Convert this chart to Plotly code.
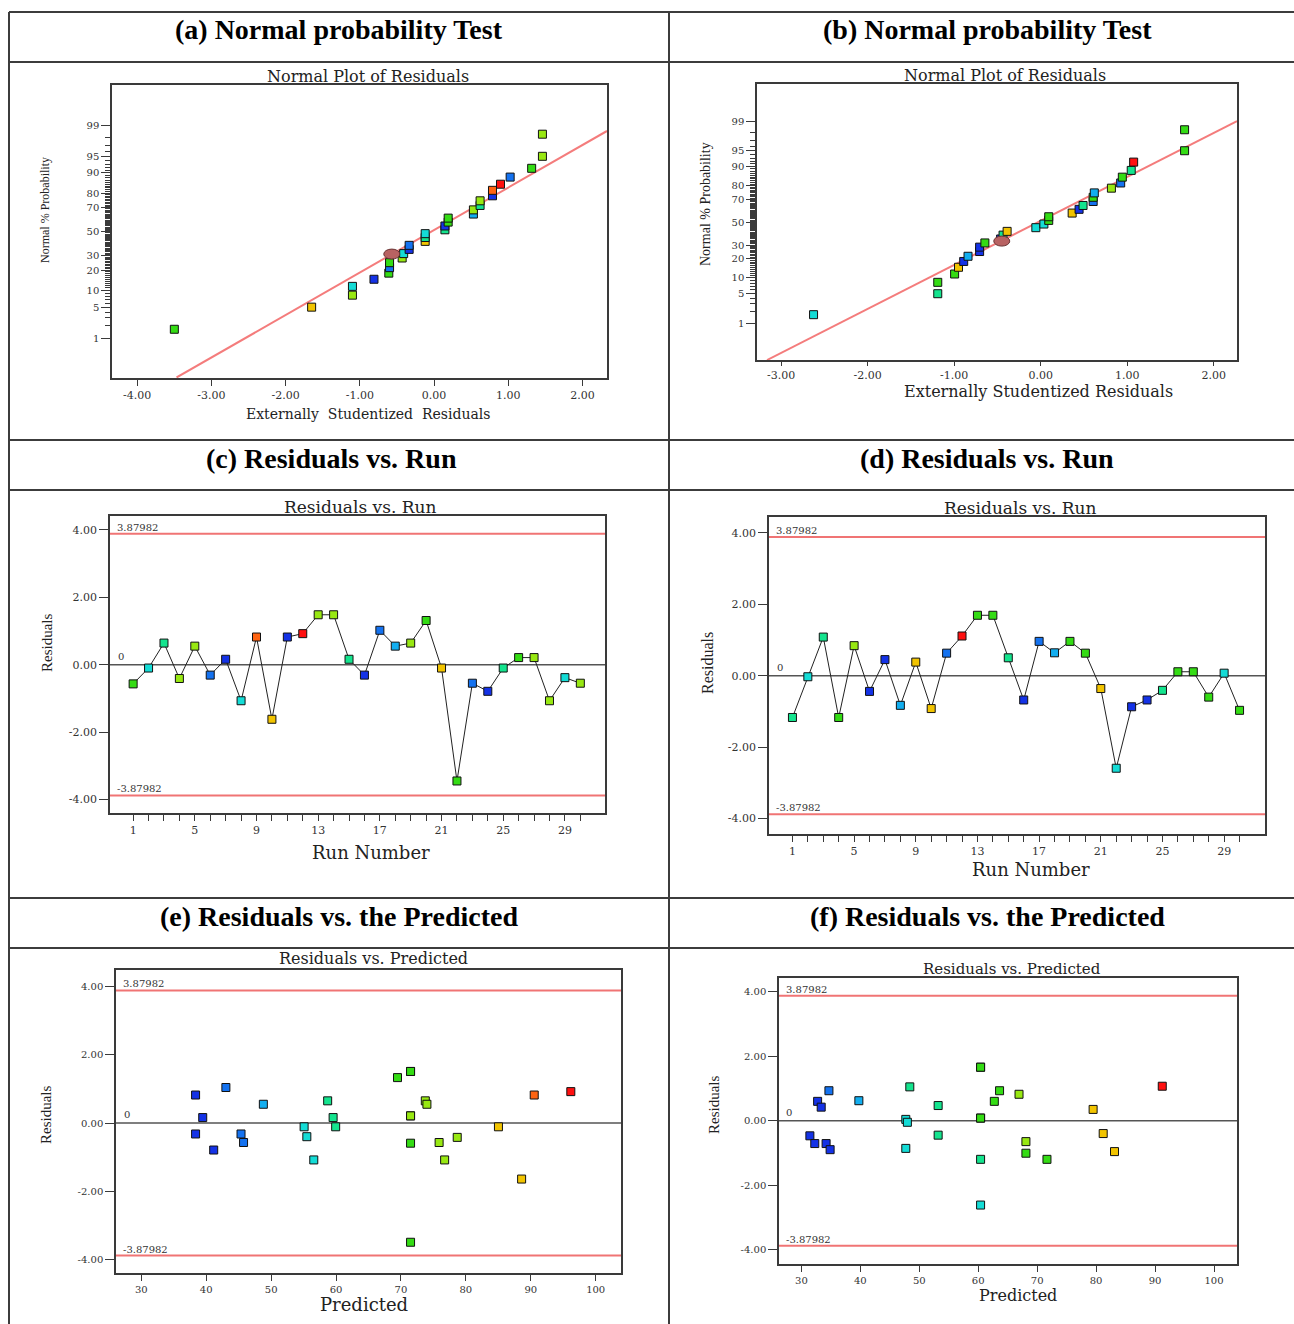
import plotly.graph_objects as go
from statistics import NormalDist

W, H = 1294, 1324
_nd = NormalDist()


def zq(p):
    return _nd.inv_cdf(p / 100.0)


# ---------------- DATA ----------------
palette = {
    "B": "#1432e6", "A": "#1472f0", "S": "#12aef0", "C": "#14dcd6",
    "T": "#14e48e", "G": "#34dc14", "L": "#98e812", "Y": "#f2c400",
    "O": "#ff6412", "R": "#ff1010",
}

prob_pct = [1.67, 5, 8.33, 11.67, 15, 18.33, 21.67, 25, 28.33, 31.67, 35, 38.33,
            41.67, 45, 48.33, 51.67, 55, 58.33, 61.67, 65, 68.33, 71.67, 75, 78.33,
            81.67, 85, 88.33, 91.67, 95, 98.33]

# (a) normal plot
esr_a = [-3.50, -1.65, -1.10, -1.10, -0.81, -0.61, -0.60, -0.60, -0.43, -0.41, -0.336, -0.336,
         -0.12, -0.12, -0.12, 0.146, 0.146, 0.19, 0.19, 0.53, 0.53, 0.62, 0.62, 0.787,
         0.787, 0.895, 1.025, 1.315, 1.46, 1.46]
col_a = ["G", "Y", "L", "C", "B", "G", "A", "G", "L", "C", "B", "A", "Y", "T", "C", "T", "B",
         "G", "G", "S", "L", "T", "L", "B", "O", "R", "A", "G", "L", "L"]
line_a_esr = [-3.47, 2.33]
line_a_pct = [0.074, 98.6]
hl_a = (-0.57, 31.3)

# (b) normal plot
esr_b = [-2.626, -1.19, -1.19, -0.995, -0.95, -0.89, -0.84, -0.706, -0.706, -0.645, -0.463,
         -0.435, -0.388, -0.056, 0.037, 0.093, 0.093, 0.364, 0.444, 0.49, 0.607, 0.607, 0.62,
         0.818, 0.925, 0.944, 1.047, 1.075, 1.664, 1.664]
col_b = ["C", "T", "G", "G", "Y", "B", "S", "B", "B", "G", "B", "T", "Y", "C", "C", "G", "G",
         "Y", "B", "T", "A", "G", "S", "L", "A", "G", "T", "R", "G", "G"]
line_b_esr = [-3.164, 2.27]
line_b_pct = [0.076, 99.0]
hl_b = (-0.45, 33.2)

# (c) residuals vs run
runs = list(range(1, 31))
res_c = [-0.57, -0.10, 0.64, -0.41, 0.55, -0.31, 0.16, -1.07, 0.82, -1.62, 0.82, 0.92, 1.48,
         1.48, 0.16, -0.31, 1.02, 0.55, 0.64, 1.31, -0.10, -3.45, -0.55, -0.79, -0.10, 0.21,
         0.21, -1.07, -0.385, -0.55]
col_c = ["G", "C", "T", "L", "L", "A", "B", "C", "O", "Y", "B", "R", "L", "L", "T", "B", "A",
         "S", "L", "G", "Y", "G", "A", "B", "T", "G", "L", "L", "C", "L"]

# (d) residuals vs run
res_d = [-1.17, -0.03, 1.08, -1.17, 0.84, -0.44, 0.45, -0.83, 0.38, -0.92, 0.63, 1.11, 1.69,
         1.69, 0.50, -0.68, 0.96, 0.64, 0.96, 0.63, -0.36, -2.59, -0.87, -0.68, -0.41, 0.11,
         0.11, -0.60, 0.07, -0.97]
col_d = ["T", "C", "T", "G", "L", "B", "B", "S", "Y", "Y", "A", "R", "G", "G", "T", "B", "A",
         "S", "G", "G", "Y", "C", "B", "B", "T", "G", "G", "G", "C", "G"]

# (e) residuals vs predicted
pred_e = [38.36, 39.46, 38.36, 41.15, 43.03, 45.36, 45.75, 48.8, 55.08, 55.5, 56.57, 58.71,
          59.55, 59.94, 69.47, 71.48, 71.48, 71.48, 71.48, 71.48, 71.48, 73.75, 74.0, 75.88,
          76.73, 78.67, 85.02, 88.59, 90.53, 96.17]
res_e = [0.82, 0.16, -0.32, -0.79, 1.04, -0.32, -0.57, 0.55, -0.11, -0.40, -1.08, 0.65, 0.16,
         -0.11, 1.33, 1.51, 1.51, 0.21, 0.21, -0.59, -3.49, 0.65, 0.55, -0.57, -1.08, -0.42,
         -0.11, -1.64, 0.82, 0.92]
col_e = ["B", "B", "B", "B", "A", "A", "A", "S", "C", "C", "C", "T", "T", "T", "G", "G", "G",
         "G", "L", "G", "G", "L", "L", "L", "L", "L", "Y", "Y", "O", "R"]

# (f) residuals vs predicted
pred_f = [31.44, 32.27, 32.75, 33.36, 34.19, 34.87, 34.67, 39.75, 47.71, 47.71, 47.98, 48.39,
          53.2, 53.2, 60.4, 60.4, 60.4, 60.4, 60.4, 60.4, 62.73, 63.62, 66.92, 68.09, 68.09,
          71.66, 79.49, 81.2, 83.12, 91.22]
res_f = [-0.47, -0.71, 0.60, 0.42, -0.71, -0.90, 0.93, 0.62, -0.86, 0.04, -0.05, 1.05, 0.47,
         -0.45, 1.66, 1.66, 0.08, 0.08, -1.20, -2.62, 0.60, 0.93, 0.82, -0.65, -1.01, -1.20,
         0.35, -0.40, -0.96, 1.07]
col_f = ["B", "B", "B", "B", "B", "B", "A", "S", "C", "C", "C", "T", "T", "T", "G", "G", "G",
         "G", "T", "C", "G", "G", "L", "L", "G", "G", "Y", "Y", "Y", "R"]

control_limit = 3.87982
prob_major = [1, 5, 10, 20, 30, 50, 70, 80, 90, 95, 99]
esr_ticks_a = [-4, -3, -2, -1, 0, 1, 2]
esr_ticks_b = [-3, -2, -1, 0, 1, 2]
res_ticks = [-4, -2, 0, 2, 4]
run_labels = [1, 5, 9, 13, 17, 21, 25, 29]
pred_ticks = [30, 40, 50, 60, 70, 80, 90, 100]

header_texts = ["(a) Normal probability Test", "(b) Normal probability Test",
                "(c) Residuals vs. Run", "(d) Residuals vs. Run",
                "(e) Residuals vs. the Predicted", "(f) Residuals vs. the Predicted"]
plot_titles = ["Normal Plot of Residuals", "Normal Plot of Residuals",
               "Residuals vs. Run", "Residuals vs. Run",
               "Residuals vs. Predicted", "Residuals vs. Predicted"]
x_titles = ["Externally  Studentized  Residuals", "Externally Studentized Residuals",
            "Run Number", "Run Number", "Predicted", "Predicted"]
y_titles = ["Normal % Probability", "Normal % Probability",
            "Residuals", "Residuals", "Residuals", "Residuals"]

# ---------------- LAYOUT GEOMETRY (pixels) ----------------
boxes = [(112, 85, 607, 378), (757, 84, 1237, 360),
         (110, 516, 605, 813), (769, 517, 1265, 834),
         (116, 970, 621, 1273), (779, 978, 1237, 1264)]
title_pos = [(368, 77, 16), (1005, 75, 16), (360, 507, 17), (1020, 508, 17),
             (373, 958, 16), (1012, 969, 15)]
xlab_pos = [(368, 414, 14), (1038, 392, 16), (371, 852, 18), (1031, 869, 18),
            (364, 1304, 18), (1018, 1295, 16)]
ylab_pos = [(45, 210, 12), (706, 204, 14), (47, 643, 15), (707, 663, 16),
            (46, 1115, 15), (714, 1105, 15)]
header_pos = [(339, 30), (987, 30), (331, 458), (987, 458), (339, 916), (987, 916)]
xranges = [(-4.34, 2.33), (-3.28, 2.27), (-0.5, 31.6), (-0.52, 31.65), (26.1, 103.9), (26.2, 103.9)]
yranges = [(-3.19, 3.2), (-3.17, 3.18), (-4.40, 4.41), (-4.43, 4.44), (-4.39, 4.48), (-4.45, 4.43)]


def px(x):
    return x / W


def py(y):
    return 1 - y / H


SERIF = "DejaVu Serif"
TNR = "Liberation Serif"
AXC = "#3a3a3a"

fig = go.Figure()
layout = dict(width=W, height=H, autosize=False, margin=dict(l=0, r=0, t=0, b=0),
              paper_bgcolor="white", plot_bgcolor="white", showlegend=False)
shapes = []
annotations = []

for i in range(6):
    n = i + 1
    xa = "xaxis" if n == 1 else f"xaxis{n}"
    ya = "yaxis" if n == 1 else f"yaxis{n}"
    xr = "x" if n == 1 else f"x{n}"
    yr = "y" if n == 1 else f"y{n}"
    x0, y0, x1, y1 = boxes[i]
    base = dict(showline=True, mirror=True, linecolor=AXC, linewidth=1.5, ticks="outside",
                tickcolor=AXC, tickwidth=1, showgrid=False, zeroline=False, fixedrange=True,
                tickfont=dict(family=SERIF, size=11 if i < 4 else 10, color="#333"))
    xd = dict(base, domain=[px(x0), px(x1)], range=list(xranges[i]), anchor=yr,
              ticklen=4 if i == 1 else 6)
    yd = dict(base, domain=[py(y1), py(y0)], range=list(yranges[i]), anchor=xr, ticklen=9)

    if i < 2:
        et = esr_ticks_a if i == 0 else esr_ticks_b
        xd.update(tickmode="array", tickvals=et, ticktext=[f"{v:.2f}" for v in et])
        yd.update(tickmode="array", tickvals=[zq(p) for p in prob_major],
                  ticktext=[str(p) for p in prob_major], tickfont=dict(family=SERIF, size=10, color="#333"),
                  minor=dict(tickmode="array",
                             tickvals=[zq(p) for p in range(1, 100) if p not in prob_major],
                             ticks="outside", ticklen=5, tickcolor=AXC, tickwidth=1))
    else:
        yd.update(tickmode="array", tickvals=res_ticks, ticktext=[f"{v:.2f}" for v in res_ticks])
        if i < 4:
            xd.update(tickmode="array", tickvals=run_labels, ticktext=[str(v) for v in run_labels],
                      minor=dict(tickmode="array", tickvals=[r for r in runs if r not in run_labels],
                                 ticks="outside", ticklen=6, tickcolor=AXC, tickwidth=1))
        else:
            xd.update(tickmode="array", tickvals=pred_ticks, ticktext=[str(v) for v in pred_ticks])
    layout[xa] = xd
    layout[ya] = yd

    # titles
    tx, ty, ts = title_pos[i]
    annotations.append(dict(text=plot_titles[i], x=px(tx), y=py(ty), xref="paper", yref="paper",
                            showarrow=False, font=dict(family=SERIF, size=ts, color="#222"),
                            xanchor="center", yanchor="middle"))
    lx, ly, ls = xlab_pos[i]
    annotations.append(dict(text=x_titles[i], x=px(lx), y=py(ly), xref="paper", yref="paper",
                            showarrow=False, font=dict(family=SERIF, size=ls, color="#222"),
                            xanchor="center", yanchor="middle"))
    vx, vy, vs = ylab_pos[i]
    annotations.append(dict(text=y_titles[i], x=px(vx), y=py(vy), xref="paper", yref="paper",
                            showarrow=False, textangle=-90,
                            font=dict(family=TNR, size=vs, color="#222"),
                            xanchor="center", yanchor="middle"))
    hx, hy = header_pos[i]
    annotations.append(dict(text=f"<b>{header_texts[i]}</b>", x=px(hx), y=py(hy), xref="paper",
                            yref="paper", showarrow=False,
                            font=dict(family=TNR, size=28, color="#000"),
                            xanchor="center", yanchor="middle"))

    if i >= 2:
        dom = f"{xr} domain"
        for lim in (control_limit, -control_limit):
            shapes.append(dict(type="line", xref=dom, yref=yr, x0=0, x1=1, y0=lim, y1=lim,
                               line=dict(color="#f07474", width=2), layer="below"))
            annotations.append(dict(text=f"{lim:.5f}", xref=dom, yref=yr, x=0.01, y=lim,
                                    xanchor="left", yanchor="bottom", showarrow=False,
                                    font=dict(family=SERIF, size=10, color="#333"), yshift=-1))
        shapes.append(dict(type="line", xref=dom, yref=yr, x0=0, x1=1, y0=0, y1=0,
                           line=dict(color="#555", width=1.5), layer="below"))
        annotations.append(dict(text="0", xref=dom, yref=yr, x=0.012, y=0,
                                xanchor="left", yanchor="bottom", showarrow=False,
                                font=dict(family=SERIF, size=10, color="#333"), yshift=1))


def marker(cols):
    return dict(symbol="square", size=8, color=[palette[c] for c in cols],
                line=dict(color="#111", width=1))


# normal plots
for i, (esr, cols, lx_, lp_, hl) in enumerate([(esr_a, col_a, line_a_esr, line_a_pct, hl_a),
                                                (esr_b, col_b, line_b_esr, line_b_pct, hl_b)]):
    n = i + 1
    xr = "x" if n == 1 else f"x{n}"
    yr = "y" if n == 1 else f"y{n}"
    fig.add_trace(go.Scatter(x=lx_, y=[zq(p) for p in lp_], mode="lines", xaxis=xr, yaxis=yr,
                             line=dict(color="#f47c7c", width=2), hoverinfo="skip"))
    fig.add_trace(go.Scatter(x=esr, y=[zq(p) for p in prob_pct], mode="markers", xaxis=xr,
                             yaxis=yr, marker=marker(cols)))
    shapes.append(dict(type="circle", xref=xr, yref=yr, xsizemode="pixel", ysizemode="pixel",
                       xanchor=hl[0], yanchor=zq(hl[1]), x0=-8, x1=8, y0=-5, y1=5,
                       fillcolor="#b86262", line=dict(color="#6a3434", width=1)))

# residuals vs run
for n, res, cols in [(3, res_c, col_c), (4, res_d, col_d)]:
    fig.add_trace(go.Scatter(x=runs, y=res, mode="lines+markers", xaxis=f"x{n}", yaxis=f"y{n}",
                             line=dict(color="#222", width=1), marker=marker(cols)))

# residuals vs predicted
for n, pred, res, cols in [(5, pred_e, res_e, col_e), (6, pred_f, res_f, col_f)]:
    fig.add_trace(go.Scatter(x=pred, y=res, mode="markers", xaxis=f"x{n}", yaxis=f"y{n}",
                             marker=marker(cols)))

# table grid lines
TL = "#3c3c3c"
for yy in [12, 62, 440, 490, 898, 948]:
    shapes.append(dict(type="line", xref="paper", yref="paper", x0=px(9), x1=1.0,
                       y0=py(yy), y1=py(yy), line=dict(color=TL, width=2)))
for xx in [9, 669]:
    shapes.append(dict(type="line", xref="paper", yref="paper", x0=px(xx), x1=px(xx),
                       y0=py(12), y1=0.0, line=dict(color=TL, width=2)))

layout["shapes"] = shapes
layout["annotations"] = annotations
fig.update_layout(**layout)
fig.write_html("out.html", config={"displayModeBar": False},
               post_script="document.body.style.margin='0';document.body.style.overflow='hidden';")
